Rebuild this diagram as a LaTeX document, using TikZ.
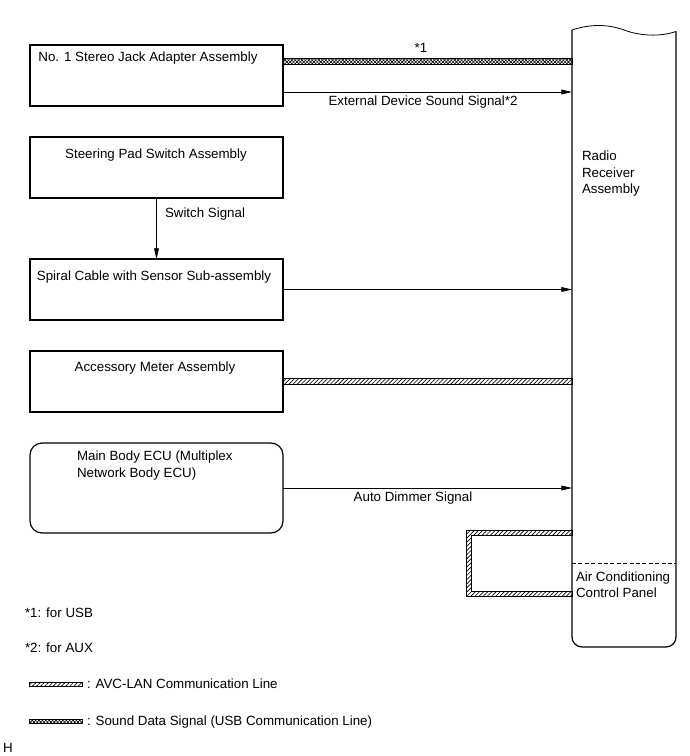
\documentclass[tikz,border=0pt]{standalone}
\usepackage{fontspec}
\setmainfont{Liberation Sans}
\usetikzlibrary{arrows.meta,patterns.meta}
\begin{document}
\begin{tikzpicture}[x=0.75pt,y=-0.75pt,
  every node/.style={font=\fontsize{10}{12.5}\selectfont, inner sep=0pt, outer sep=0pt},
  box/.style={draw, line width=0.9pt, minimum width=189.75pt, minimum height=45.75pt},
  lbl/.style={anchor=base},
  lbll/.style={anchor=base west},
  arr/.style={line width=0.6pt, -{Triangle[length=8pt,width=3.6pt]}},
  avc/.style={draw, line width=0.5pt, pattern={Lines[angle=45,distance=2.2pt,line width=0.5pt]}},
  snd/.style={draw, line width=0.5pt, pattern={Lines[angle=45,distance=1.8pt,line width=0.45pt]}, postaction={pattern={Lines[angle=-45,distance=1.8pt,line width=0.45pt]}}},
]
\useasboundingbox (0,0) rectangle (689,756);

% left boxes
\node[box] (b1) at (156.5,75.5) {};
\node[lbl] (t1) at (148,62) {No. 1 Stereo Jack Adapter Assembly};
\node[box] (b2) at (156.5,167.5) {};
\node[lbl] (t2) at (156,158) {Steering Pad Switch Assembly};
\node[box] (b3) at (156.5,289.5) {};
\node[lbl] (t3) at (154,280) {Spiral Cable with Sensor Sub-assembly};
\node[box] (b4) at (156.5,381.5) {};
\node[lbl] (t4) at (155,371) {Accessory Meter Assembly};
\node[box, minimum height=67.5pt, rounded corners=9pt] (b5) at (156.5,488) {};
\node[lbll] (t5a) at (77,460) {Main Body ECU (Multiplex};
\node[lbll] (t5b) at (77,477) {Network Body ECU)};

% radio receiver
\node[minimum width=78pt, minimum height=462.75pt] (rr) at (624,338.5) {};
\draw[line width=0.9pt, rounded corners=7.5pt] (572,30) -- (572,647) -- (676,647) -- (676,31.5);
\draw[line width=0.6pt] (572,30) .. controls (590,24) and (608,24) .. (624,30) .. controls (640,36) and (660,37) .. (676,31.5);
\draw[line width=0.6pt, dash pattern=on 3pt off 1.8pt] (572,563.5) -- (676,563.5);
\node[lbll] (r1) at (582,160.5) {Radio};
\node[lbll] (r2) at (582,177) {Receiver};
\node[lbll] (r3) at (582,193.5) {Assembly};
\node[lbll] (a1) at (576,581) {Air Conditioning};
\node[lbll] (a2) at (576,597) {Control Panel};

% connectors
\draw[snd] (b1.east |- 0,58.5) rectangle (rr.west |- 0,64.5);
\node[lbl] (s1) at (421,53) {*1};
\draw[arr] (b1.east |- 0,92) -- (rr.west |- 0,92);
\node[lbl] (ext) at (423,106) {External Device Sound Signal*2};
\draw[arr] (b2.south) -- (b3.north);
\node[lbll] (sw) at (165,217.5) {Switch Signal};
\draw[arr] (b3.east) -- (rr.west |- b3.east);
\draw[avc] (b4.east |- 0,378.5) rectangle (rr.west |- 0,384);
\draw[arr] (b5.east) -- (rr.west |- b5.east);
\node[lbl] (ad) at (413,501.5) {Auto Dimmer Signal};
\draw[avc] (rr.west |- 0,530.5) -- (466,530.5) -- (466,596) -- (rr.west |- 0,596) -- (rr.west |- 0,591.5) -- (471,591.5) -- (471,535) -- (rr.west |- 0,535) -- cycle;

% legend
\node[lbll] (n1) at (25,617) {*1: for USB};
\node[lbll] (n2) at (25,652) {*2: for AUX};
\draw[avc] (29,682) rectangle (82,686);
\node[lbll] (l1) at (87,688.5) {: AVC-LAN Communication Line};
\draw[snd] (29,719) rectangle (82,723);
\node[lbll] (l2) at (87,725.5) {: Sound Data Signal (USB Communication Line)};
\node[lbll] (h) at (3,752) {H};
\end{tikzpicture}
\end{document}
